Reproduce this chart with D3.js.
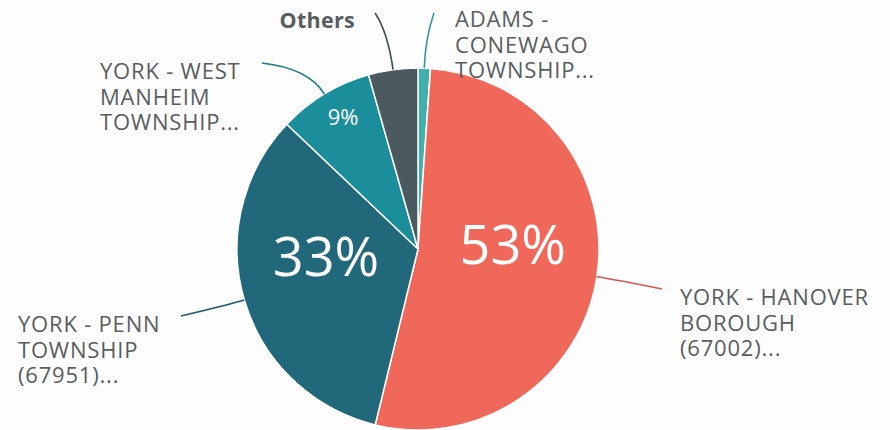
<!DOCTYPE html>
<html>
<head>
<meta charset="utf-8">
<script src="https://cdn.jsdelivr.net/npm/d3@7"></script>
<style>
  html, body { margin: 0; padding: 0; background: #fdfdfd; }
  text { font-family: "Open Sans", sans-serif; }
</style>
</head>
<body>
<svg id="chart" width="890" height="430"></svg>
<script>
// slices in drawing order, clockwise from 12 o'clock
var names    = ["ADAMS - CONEWAGO TOWNSHIP", "YORK - HANOVER BOROUGH (67002)", "YORK - PENN TOWNSHIP (67951)", "YORK - WEST MANHEIM TOWNSHIP", "Others"];
var shares   = [1.1, 52.7, 33.3, 8.5, 4.4];
var labels   = [
  ["ADAMS -", "CONEWAGO", "TOWNSHIP..."],
  ["YORK - HANOVER", "BOROUGH", "(67002)..."],
  ["YORK - PENN", "TOWNSHIP", "(67951)..."],
  ["YORK - WEST", "MANHEIM", "TOWNSHIP..."],
  ["Others"]
];
var colors   = ["#3fb0ab", "#f0685a", "#21697a", "#1b8e9c", "#4b5a5e"];

var svg = d3.select("#chart"),
    cx = 418, cy = 249, r = 181;

// where each callout line ends and its text sits (layout only)
var callout = [
  { ex: 434, ey: 13,  tx: 455, ty: 27,  anchor: "start", bend: 30 },
  { ex: 662, ey: 289, tx: 680, ty: 305, anchor: "start", bend: 20 },
  { ex: 181, ey: 316, tx: 18,  ty: 332, anchor: "start", bend: 20 },
  { ex: 262, ey: 63,  tx: 100, ty: 79,  anchor: "start", bend: 30 },
  { ex: 375, ey: 13,  tx: 355, ty: 28,  anchor: "end",   bend: 38 }
];

var pie = d3.pie().sort(null).value(function (d) { return d; });
var arcs = pie(shares);
var arc = d3.arc().innerRadius(0).outerRadius(r);

var g = svg.append("g").attr("transform", "translate(" + cx + "," + cy + ")");

g.selectAll("path.slice")
  .data(arcs)
  .enter().append("path")
  .attr("class", "slice")
  .attr("d", arc)
  .attr("fill", function (d, i) { return colors[i]; })
  .attr("stroke", "#ffffff")
  .attr("stroke-width", 1.5);

// percent labels inside the slices, baseline at the centroid
var total = d3.sum(shares);
g.selectAll("text.pct")
  .data(arcs.filter(function (d) { return d.value / total > 0.06; }))
  .enter().append("text")
  .attr("class", "pct")
  .attr("transform", function (d) {
      var p = d.value / total > 0.2 ? 0.53 : 0.8;
      var c = d3.arc().innerRadius(r * p).outerRadius(r * p).centroid(d);
      return "translate(" + c[0] + "," + c[1] + ")";
  })
  .attr("text-anchor", "middle")
  .attr("fill", "#ffffff")
  .style("font-size", function (d) { return d.value / total > 0.2 ? "54px" : "22px"; })
  .text(function (d) { return Math.round(d.value / total * 100) + "%"; });

// callout lines
arcs.forEach(function (d, i) {
    var mid = (d.startAngle + d.endAngle) / 2;
    var o = callout[i];
    var sx = cx + Math.sin(mid) * r, sy = cy - Math.cos(mid) * r;
    var qx = cx + Math.sin(mid) * (r + o.bend), qy = cy - Math.cos(mid) * (r + o.bend);
    var path = d3.path();
    path.moveTo(sx, sy);
    path.quadraticCurveTo(qx, qy, o.ex, o.ey);
    svg.append("path")
      .attr("d", path.toString())
      .attr("fill", "none")
      .attr("stroke", d3.color(colors[i]).darker(0.4))
      .attr("stroke-width", 1.6);

    var bold = names[i] == "Others";
    var t = svg.append("text")
      .attr("x", o.tx)
      .attr("y", o.ty)
      .attr("text-anchor", o.anchor)
      .attr("fill", "#585d60")
      .style("font-size", bold ? "21.5px" : "22px")
      .style("letter-spacing", bold ? "0.3px" : "0.8px")
      .style("font-weight", bold ? "700" : "400");
    labels[i].forEach(function (line, k) {
        t.append("tspan")
          .attr("x", o.tx)
          .attr("y", o.ty + k * 25.5)
          .text(line);
    });
});
</script>
</body>
</html>
